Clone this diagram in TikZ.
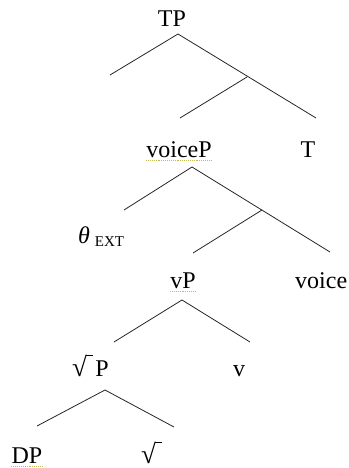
\documentclass[tikz,border=0pt]{standalone}
\usepackage{fontspec}
\setmainfont{Liberation Serif}
\usetikzlibrary{positioning}
\newcommand\radix{\setbox0\hbox{{\fontsize{27}{30}\selectfont √}}\copy0\kern-0.6pt\rule[\dimexpr\ht0-0.7pt]{7pt}{0.6pt}}

\begin{document}
\begin{tikzpicture}[
  x=1pt, y=-1pt,
  font=\fontsize{24}{28}\selectfont,
  lbl/.style={anchor=base, inner sep=0pt},
  lblw/.style={anchor=base west, inner sep=0pt},
  branch/.style={draw=black!85, line width=0.8pt},
  squiggle/.style={draw=olive!55, densely dotted, line width=0.9pt}
]
\useasboundingbox (0,0) rectangle (348,468);
% labels
\node[lbl] (tp) at (172,27) {TP};
\node[lbl] (voiceP) at (179,157) {voiceP};
\node[lbl] (t) at (308,157) {T};
\node[lblw] (ext) at (78,243) {\textit{θ}\kern5pt\raisebox{-3pt}{\fontsize{15}{17}\selectfont EXT}};
\node[lbl] (vP) at (183,288) {vP};
\node[lblw] (voice) at (295,288) {voice};
\node[lblw] (rootP) at (72,376) {\radix\kern2pt P};
\node[lbl] (v) at (239,376) {v};
\node[lbl] (dp) at (27,463) {DP};
\node[lblw] (root) at (141,463) {\radix};
% branch points
\coordinate (tpTop) at (178,34);
\coordinate (tpL) at (110,75);
\coordinate (tpR) at (316,118);
\coordinate (tbar) at (247,77);
\coordinate (tbarL) at (180,118);
\coordinate (voicePTop) at (192,167);
\coordinate (voicePL) at (124,210);
\coordinate (voicePR) at (330,252);
\coordinate (voicebar) at (262,210);
\coordinate (voicebarL) at (193,253);
\coordinate (vPTop) at (182,300);
\coordinate (vPL) at (114,342);
\coordinate (vPR) at (250,342);
\coordinate (rootPTop) at (105,390);
\coordinate (rootPL) at (37,426);
\coordinate (rootPR) at (174,427);
% tree
\draw[branch] (tpL) -- (tpTop) -- (tpR);
\draw[branch] (tbar) -- (tbarL);
\draw[branch] (voicePL) -- (voicePTop) -- (voicePR);
\draw[branch] (voicebar) -- (voicebarL);
\draw[branch] (vPL) -- (vPTop) -- (vPR);
\draw[branch] (rootPL) -- (rootPTop) -- (rootPR);
% spell-check marks
\draw[squiggle] ([yshift=-3pt]voiceP.south west) -- ([yshift=-3pt]voiceP.south east);
\draw[squiggle] ([yshift=-3pt]vP.south west) -- ([yshift=-3pt]vP.south east);
\draw[squiggle] ([yshift=-3pt]dp.south west) -- ([yshift=-3pt]dp.south east);
\end{tikzpicture}
\end{document}
